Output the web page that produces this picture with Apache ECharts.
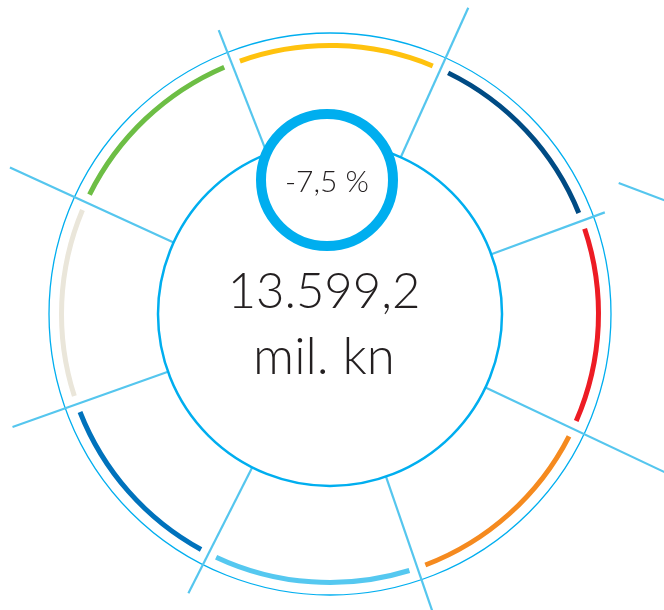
<!DOCTYPE html>
<html>
<head>
<meta charset="utf-8">
<script src="https://cdn.jsdelivr.net/npm/echarts@6/dist/echarts.min.js"></script>
<style>
  html, body { margin: 0; padding: 0; background: #fff; }
  #chart { width: 664px; height: 610px; }
</style>
</head>
<body>
<div id="chart"></div>
<script>
// sektori (stupnjevi izmjereni sa slike, u smjeru kazaljke od vrha)
var sectorNames = ['s1', 's2', 's3', 's4', 's5', 's6', 's7', 's8'];
var sectorValues = [45.7, 45.4, 45.6, 45.7, 45.9, 43.5, 44.2, 44.0];
var sectorColors = ['#FFC20E', '#004B84', '#ED1C24', '#F58A1F', '#55C8F0', '#0072BC', '#EAE6DA', '#6DBE45'];

// radijalne linije: kut i duljina
var lineAngles = [338.6, 24.3, 69.7, 115.3, 161, 206.9, 250.4, 294.6];
var lineEnds = [305, 336, 293, 400, 340, 313, 337, 352];
var extraLine = [[317, 65.6], [383, 74.8]];

var totalText = '13.599,2';
var unitText = 'mil. kn';
var changeText = '-7,5 %';

(function() {
    var cx = 330, cy = 314;
    var innerR = 172, outerR = 281;

    var chart = echarts.init(document.getElementById('chart'));

    var lineSeries = [];
    for (var i = 0; i < lineAngles.length; i++) {
        lineSeries.push({
            type: 'line',
            coordinateSystem: 'polar',
            silent: true,
            symbol: 'none',
            clip: false,
            lineStyle: { color: '#55C6EE', width: 2.2 },
            data: [[innerR, lineAngles[i]], [lineEnds[i], lineAngles[i]]]
        });
    }
    lineSeries.push({
        type: 'line',
        coordinateSystem: 'polar',
        silent: true,
        symbol: 'none',
        clip: false,
        lineStyle: { color: '#55C6EE', width: 2.2 },
        data: extraLine
    });

    var pieData = [];
    for (var j = 0; j < sectorValues.length; j++) {
        pieData.push({
            name: sectorNames[j],
            value: sectorValues[j],
            itemStyle: { color: sectorColors[j] }
        });
    }

    var option = {
        animation: false,
        polar: {
            center: [cx, cy],
            radius: [0, 400]
        },
        angleAxis: {
            type: 'value',
            min: 0,
            max: 360,
            startAngle: 90,
            clockwise: true,
            show: false
        },
        radiusAxis: {
            type: 'value',
            min: 0,
            max: 400,
            show: false
        },
        graphic: [
            {
                type: 'circle',
                shape: { cx: cx, cy: cy, r: outerR },
                style: { fill: 'none', stroke: '#00AEEF', lineWidth: 1.3 },
                z: 1
            },
            {
                type: 'circle',
                shape: { cx: cx, cy: cy, r: innerR },
                style: { fill: 'none', stroke: '#00AEEF', lineWidth: 2.5 },
                z: 5
            },
            {
                type: 'circle',
                shape: { cx: 327, cy: 180, r: 66 },
                style: { fill: '#fff', stroke: '#00AEEF', lineWidth: 10 },
                z: 10
            },
            {
                type: 'text',
                x: 327, y: 182,
                z: 11,
                style: {
                    text: changeText,
                    fill: '#231F20',
                    font: '300 30px Lato',
                    textAlign: 'center',
                    textVerticalAlign: 'middle'
                }
            },
            {
                type: 'text',
                x: 324, y: 292,
                z: 11,
                style: {
                    text: totalText,
                    fill: '#231F20',
                    font: '300 49px Lato',
                    textAlign: 'center',
                    textVerticalAlign: 'middle'
                }
            },
            {
                type: 'text',
                x: 324, y: 358,
                z: 11,
                style: {
                    text: unitText,
                    fill: '#231F20',
                    font: '300 51px Lato',
                    textAlign: 'center',
                    textVerticalAlign: 'middle'
                }
            }
        ],
        series: lineSeries.concat([{
            type: 'pie',
            center: [cx, cy],
            radius: [266, 271],
            startAngle: 90 - lineAngles[0] + 360,
            padAngle: 3.6,
            silent: true,
            label: { show: false },
            labelLine: { show: false },
            data: pieData
        }])
    };
    chart.setOption(option);
})();
</script>
</body>
</html>
